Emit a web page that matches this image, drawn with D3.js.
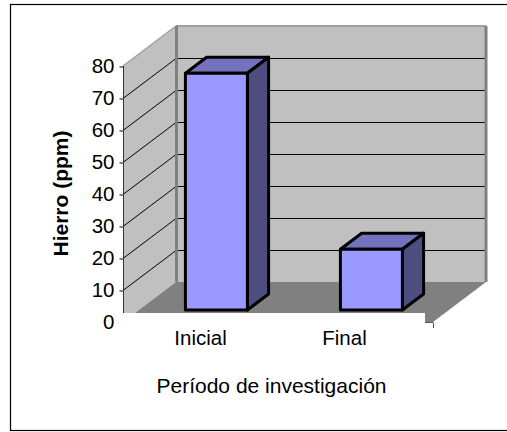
<!DOCTYPE html>
<html><head><meta charset="utf-8">
<script src="https://cdnjs.cloudflare.com/ajax/libs/d3/7.8.5/d3.min.js"></script>
<style>html,body{margin:0;padding:0;background:#fff}svg{display:block}text{font-family:"Liberation Sans",Arial,sans-serif;fill:#000}</style>
</head><body><script>
const categories = ["Inicial", "Final"];
const hierro = [74, 19];
const yTicks = [0, 10, 20, 30, 40, 50, 60, 70, 80];
const yTitle = "Hierro (ppm)";
const xTitle = "Período de investigación";

const W = 507, H = 432;
const svg = d3.select("body").append("svg").attr("width", W).attr("height", H);

const y = d3.scaleLinear().domain([0, 80]).range([322, 66]);
const x = d3.scaleBand().domain(categories).range([123, 433]);
const xLabel = d3.scalePoint().domain(categories).range([200.5, 344.5]);
// depth: 0 = front plane, 1 = back wall
const dx = d3.scaleLinear().domain([0, 1]).range([0, 53]);
const dy = d3.scaleLinear().domain([0, 1]).range([0, -40]);
const pt = (px, py, d) => [px + dx(d), py + dy(d)];
const poly = (pts, fill, stroke, sw) => svg.append("polygon")
  .attr("points", pts.map(p => p.join(",")).join(" "))
  .attr("fill", fill).attr("stroke", stroke || "none").attr("stroke-width", sw || 0)
  .attr("stroke-linejoin", "round");

// frame: the right side runs off the picture
svg.append("rect").attr("x", 10.5).attr("y", 4.5).attr("width", 510).attr("height", 426)
  .attr("fill", "#fff").attr("stroke", "#000").attr("stroke-width", 1.2);

const [x0, x1] = x.range();
const yb = y(0), yt = y(80);
// side wall, back wall, floor
poly([pt(x0, yb, 0), pt(x0, yt, 0), pt(x0, yt, 1), pt(x0, yb, 1)], "#c0c0c0");
poly([pt(x0, yb, 1), pt(x0, yt, 1), pt(x1, yt, 1), pt(x1, yb, 1)], "#c0c0c0");
poly([pt(x0, yb, 0), pt(x0, yb, 1), pt(x1, yb, 1), pt(x1, yb, 0)], "#808080");

// gridlines
yTicks.slice(1, -1).forEach(t => {
  const a = pt(x0, y(t) + 0.5, 0), b = pt(x0, y(t) + 0.5, 1), c = pt(x1, y(t) + 0.5, 1);
  svg.append("polyline").attr("points", [a, b, c].map(p => p.join(",")).join(" "))
    .attr("fill", "none").attr("stroke", "#000").attr("stroke-width", 1);
});
// wall edges
const edge = (a, b, col, sw) => svg.append("line").attr("x1", a[0]).attr("y1", a[1]).attr("x2", b[0]).attr("y2", b[1]).attr("stroke", col).attr("stroke-width", sw);
edge(pt(x0, yt, 0), pt(x0, yt, 1), "#a0a0a0", 1.5);
edge(pt(x0, yt, 1), pt(x1, yt, 1), "#a0a0a0", 2);
edge(pt(x0 + 0.5, yb, 1), pt(x0 + 0.5, yt, 1), "#808080", 3);
edge(pt(x1, yb, 1), pt(x1, yt, 1), "#808080", 3);

// bars
const barFrac = 0.4, d0 = 0.3, d1 = 0.7;
categories.forEach((c, i) => {
  const l = x(c) + x.bandwidth() * (1 - barFrac) / 2, r = l + x.bandwidth() * barFrac;
  const top = y(hierro[i]);
  poly([pt(l, top, d0), pt(l, top, d1), pt(r, top, d1), pt(r, top, d0)], "#7373bd", "#000", 3);
  poly([pt(r, yb, d0), pt(r, top, d0), pt(r, top, d1), pt(r, yb, d1)], "#4d4d80", "#000", 3);
  poly([pt(l, yb, d0), pt(l, top, d0), pt(r, top, d0), pt(r, yb, d0)], "#9999ff", "#000", 3);
});

// white block below the floor's front edge, as in the reference
svg.append("rect").attr("x", 117).attr("y", 313).attr("width", 308).attr("height", 16).attr("fill", "#fff");

// axis line and ticks
const axisG = svg.append("g").attr("transform", `translate(${x0 + 0.5},0)`);
axisG.call(d3.axisLeft(y).tickValues(yTicks).tickSize(4).tickPadding(5).tickFormat(d3.format("d")));
axisG.select(".domain").remove();
axisG.selectAll("text").style("font-size", "20.5px").attr("fill", "#000");
axisG.selectAll(".tick line").attr("stroke", "#000").attr("y1", 0.5).attr("y2", 0.5);
axisG.selectAll(".tick").filter(d => d === 0).select("line").attr("x2", -5).attr("x1", -4.5).attr("stroke", "#888");
edge([x0 + 0.5, yt], [x0 + 0.5, 313], "#333", 1);
// remaining stub of the front right corner
edge([x1 + 0.5, yb + 1], [x1 + 0.5, yb + 6], "#555", 1);
edge([x1 - 8, yb + 0.5], [x1 + 0.5, yb + 0.5], "#555", 1);

// category labels
svg.selectAll(".cat").data(categories).join("text").attr("class", "cat")
  .attr("x", c => xLabel(c)).attr("y", 345)
  .attr("text-anchor", "middle").style("font-size", "20.5px").text(c => c);

svg.append("text").attr("x", 271.5).attr("y", 393).attr("text-anchor", "middle")
  .style("font-size", "21px").text(xTitle);
svg.append("text").attr("transform", "translate(68,193.5) rotate(-90)").attr("text-anchor", "middle")
  .style("font-size", "21px").style("font-weight", "bold").text(yTitle);
</script></body></html>
